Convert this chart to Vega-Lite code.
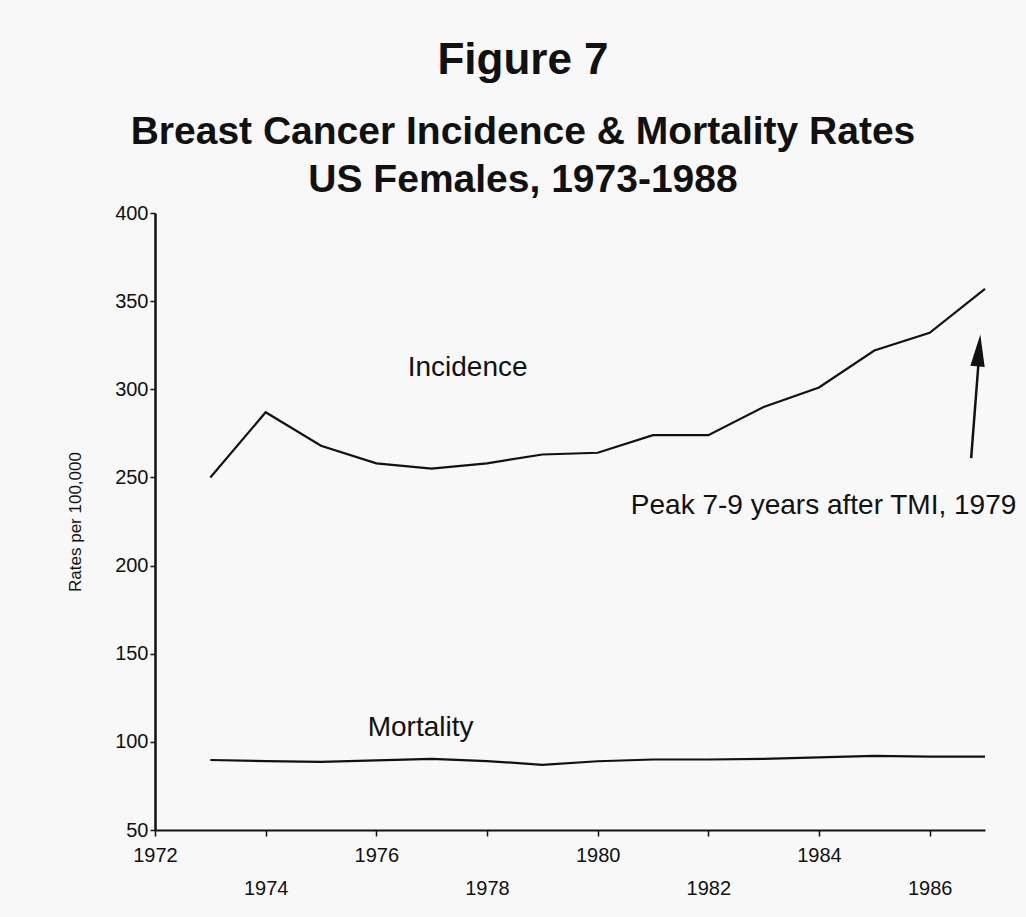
{
  "$schema": "https://vega.github.io/schema/vega-lite/v6.json",
  "width": 830,
  "height": 617,
  "autosize": "none",
  "padding": {"left": 155, "top": 213, "right": 41, "bottom": 87},
  "background": "#f8f8f8",
  "config": {
    "view": {"stroke": null},
    "font": "Liberation Sans",
    "axis": {"labelFont": "Liberation Sans", "titleFont": "Liberation Sans", "labelColor": "#111", "domainColor": "#111", "tickColor": "#111", "grid": false}
  },
  "title": {
    "text": "Figure 7",
    "subtitle": ["Breast Cancer Incidence & Mortality Rates", "US Females, 1973-1988"],
    "fontSize": 44,
    "fontWeight": "bold",
    "color": "#111",
    "subtitleFontSize": 39,
    "subtitleFontWeight": "bold",
    "subtitleColor": "#111",
    "subtitleLineHeight": 48,
    "subtitlePadding": 30,
    "anchor": "middle",
    "dx": -47,
    "offset": 3,
    "font": "Liberation Sans",
    "subtitleFont": "Liberation Sans"
  },
  "datasets": {
    "rates": [
      {"year": 1973, "series": "Incidence", "rate": 250},
      {"year": 1974, "series": "Incidence", "rate": 287},
      {"year": 1975, "series": "Incidence", "rate": 268},
      {"year": 1976, "series": "Incidence", "rate": 258},
      {"year": 1977, "series": "Incidence", "rate": 255},
      {"year": 1978, "series": "Incidence", "rate": 258},
      {"year": 1979, "series": "Incidence", "rate": 263},
      {"year": 1980, "series": "Incidence", "rate": 264},
      {"year": 1981, "series": "Incidence", "rate": 274},
      {"year": 1982, "series": "Incidence", "rate": 274},
      {"year": 1983, "series": "Incidence", "rate": 290},
      {"year": 1984, "series": "Incidence", "rate": 301},
      {"year": 1985, "series": "Incidence", "rate": 322},
      {"year": 1986, "series": "Incidence", "rate": 332},
      {"year": 1987, "series": "Incidence", "rate": 357},
      {"year": 1973, "series": "Mortality", "rate": 89.7},
      {"year": 1974, "series": "Mortality", "rate": 89.1},
      {"year": 1975, "series": "Mortality", "rate": 88.6},
      {"year": 1976, "series": "Mortality", "rate": 89.5},
      {"year": 1977, "series": "Mortality", "rate": 90.3},
      {"year": 1978, "series": "Mortality", "rate": 89.1},
      {"year": 1979, "series": "Mortality", "rate": 87.0},
      {"year": 1980, "series": "Mortality", "rate": 89.0},
      {"year": 1981, "series": "Mortality", "rate": 90.0},
      {"year": 1982, "series": "Mortality", "rate": 90.0},
      {"year": 1983, "series": "Mortality", "rate": 90.3},
      {"year": 1984, "series": "Mortality", "rate": 91.2},
      {"year": 1985, "series": "Mortality", "rate": 92.0},
      {"year": 1986, "series": "Mortality", "rate": 91.6},
      {"year": 1987, "series": "Mortality", "rate": 91.6}
    ],
    "labels": [
      {"year": 1977.65, "rate": 312, "label": "Incidence"},
      {"year": 1976.8, "rate": 108, "label": "Mortality"}
    ],
    "note": [
      {"year": 1980.6, "rate": 234, "label": "Peak 7-9 years after TMI, 1979"}
    ],
    "arrow": [
      {"year": 1986.75, "rate": 261, "year2": 1986.9, "rate2": 322}
    ],
    "head": [
      {"year": 1986.89, "rate": 322}
    ]
  },
  "layer": [
    {
      "data": {"name": "rates"},
      "mark": {"type": "line", "strokeWidth": 2.2, "color": "#111"},
      "encoding": {
        "x": {
          "field": "year", "type": "quantitative",
          "scale": {"domain": [1972, 1987], "nice": false, "zero": false},
          "axis": {
            "title": null,
            "values": [1972, 1974, 1976, 1978, 1980, 1982, 1984, 1986],
            "format": "d",
            "labelFontSize": 20,
            "labelOverlap": false,
            "labelFlush": false,
            "tickSize": 6,
            "tickWidth": 1.5,
            "domainWidth": 2,
            "labelPadding": {"condition": {"test": "datum.value % 4 == 2", "value": 42}, "value": 9}
          }
        },
        "y": {
          "field": "rate", "type": "quantitative",
          "scale": {"domain": [50, 400], "nice": false, "zero": false},
          "axis": {
            "title": "Rates per 100,000",
            "titleFontSize": 17,
            "titleFontWeight": "normal",
            "titleColor": "#111",
            "titlePadding": 30,
            "values": [50, 100, 150, 200, 250, 300, 350, 400],
            "labelFontSize": 20,
            "labelOverlap": false,
            "labelFlush": false,
            "tickSize": 5,
            "tickWidth": 1.5,
            "domainWidth": 2.5,
            "labelPadding": 2
          }
        },
        "detail": {"field": "series", "type": "nominal"}
      }
    },
    {
      "mark": {"type": "rule", "strokeWidth": 2.2, "color": "#111"},
      "encoding": {"y": {"datum": 400}}
    },
    {
      "data": {"name": "labels"},
      "mark": {"type": "text", "fontSize": 28, "color": "#111", "align": "center", "baseline": "middle", "font": "Liberation Sans"},
      "encoding": {
        "x": {"field": "year", "type": "quantitative"},
        "y": {"field": "rate", "type": "quantitative"},
        "text": {"field": "label"}
      }
    },
    {
      "data": {"name": "note"},
      "mark": {"type": "text", "fontSize": 28, "color": "#111", "align": "left", "baseline": "middle", "font": "Liberation Sans"},
      "encoding": {
        "x": {"field": "year", "type": "quantitative"},
        "y": {"field": "rate", "type": "quantitative"},
        "text": {"field": "label"}
      }
    },
    {
      "data": {"name": "arrow"},
      "mark": {"type": "rule", "strokeWidth": 2.5, "color": "#111"},
      "encoding": {
        "x": {"field": "year", "type": "quantitative"},
        "y": {"field": "rate", "type": "quantitative"},
        "x2": {"field": "year2"},
        "y2": {"field": "rate2"}
      }
    },
    {
      "data": {"name": "head"},
      "mark": {"type": "point", "shape": "M0,-1L0.45,1L-0.45,1Z", "filled": true, "opacity": 1, "color": "#111", "size": 1024, "angle": 5},
      "encoding": {
        "x": {"field": "year", "type": "quantitative"},
        "y": {"field": "rate", "type": "quantitative"}
      }
    }
  ]
}
